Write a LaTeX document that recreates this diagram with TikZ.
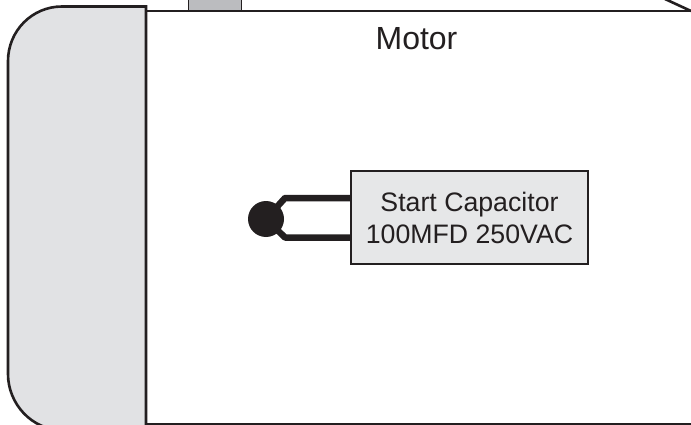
\documentclass[tikz,border=0pt]{standalone}
\usepackage{fontspec}
\setmainfont{Liberation Sans}
\definecolor{ink}{HTML}{231F20}
\definecolor{panelgray}{HTML}{E1E2E4}
\definecolor{tabgray}{HTML}{BBBCBF}
\definecolor{capgray}{HTML}{E6E7E8}
\begin{document}
\begin{tikzpicture}[x=1pt,y=-1pt,
  outline/.style={draw=ink,line width=2.6pt},
  lead/.style={draw=ink,line width=6.5pt,line join=round},
  capbox/.style={draw=ink,line width=2.6pt,fill=capgray,minimum width=237pt,minimum height=93pt,inner sep=0pt,align=center,font=\fontsize{26.7}{32}\selectfont,text=ink},
  lbl/.style={font=\fontsize{32}{34}\selectfont,text=ink,inner sep=0pt}]
\useasboundingbox (0,0) rectangle (691,425);
\clip (0,0) rectangle (691,425);
\fill[white] (0,0) rectangle (691,425);
% tab on top
\draw[draw=ink,line width=1pt,fill=tabgray] (188.5,-3) rectangle (241,11);
% motor body lines
\draw[outline] (146,11) -- (691,11);
\draw[outline] (146,424) -- (691,424);
\draw[outline] (665,-1) -- (691,11);
% end bell
\draw[outline,fill=panelgray] (146,6.5) -- (62,6.5)
  .. controls (32,6.5) and (8,31) .. (8,61)
  -- (8,374) .. controls (8,404) and (32,430) .. (62,430)
  -- (146,430) -- cycle;
\node[lbl] (motor) at (416.5,39) {Motor};
\coordinate (upper) at (285,198);
\coordinate (lower) at (285,237.5);
\coordinate (termc) at (266,219);
\coordinate (capw) at (351,217.5);
\draw[lead] (termc) -- (upper) -- (upper -| capw);
\draw[lead] (termc) -- (lower) -- (lower -| capw);
\node[capbox] (cap) at (469.5,217.5) {Start Capacitor\\100MFD 250VAC};
\node[circle,fill=ink,minimum size=36pt,inner sep=0pt] (term) at (termc) {};
\end{tikzpicture}
\end{document}
